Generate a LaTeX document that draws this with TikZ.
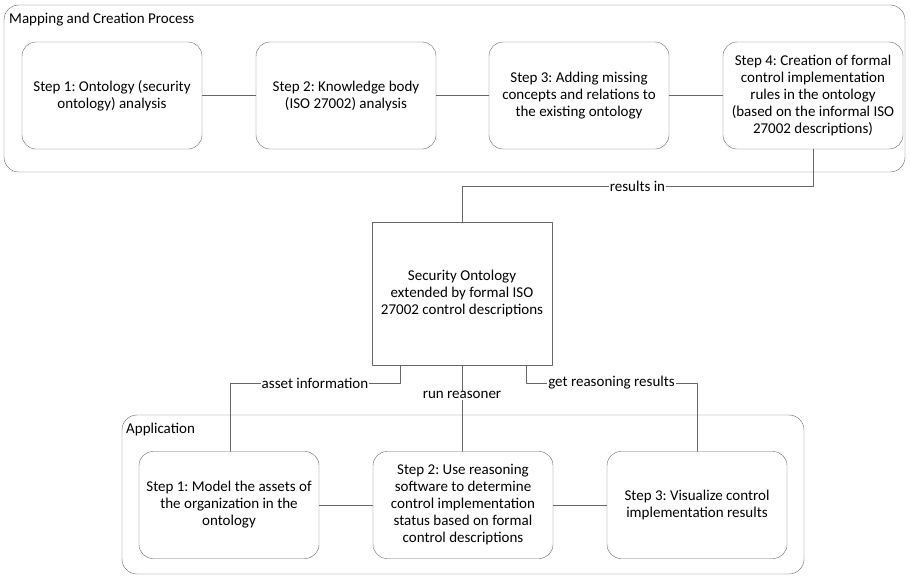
\documentclass[tikz,border=0pt]{standalone}
\usepackage{fontspec}
\setmainfont{Carlito}
\usetikzlibrary{positioning}

\tikzset{
  stepbox/.style={draw=gray!80!black, rounded corners=14pt, minimum width=180pt, minimum height=107pt,
    align=center, inner sep=0pt},
  ontobox/.style={draw=gray!80!black, minimum width=180pt, minimum height=143pt,
    align=center, inner sep=0pt},
  groupbox/.style={draw=gray!80!black, rounded corners=15pt},
  conn/.style={draw=gray!80!black, line width=0.7pt},
  lbl/.style={fill=white, inner sep=1pt}
}

\begin{document}
\frenchspacing
\begin{tikzpicture}[line cap=round,line join=round,x=1pt,y=-1pt,
    font=\fontsize{15}{17}\selectfont]
  \useasboundingbox (0,0) rectangle (910,576);
  % containers
  \draw[groupbox] (4,5) rectangle (905,172);
  \node[anchor=west, inner sep=0pt] (mctitle) at (9,20) {Mapping and Creation Process};
  \draw[groupbox] (122,415) rectangle (804,574);
  \node[anchor=west, inner sep=0pt] (aptitle) at (126,429) {Application};

  % mapping and creation steps
  \node[stepbox] (mc1) at (112,95.5) {Step 1: Ontology (security\\ ontology) analysis};
  \node[stepbox] (mc2) at (346,95.5) {Step 2: Knowledge body\\ (ISO 27002) analysis};
  \node[stepbox] (mc3) at (579,95.5) {Step 3: Adding missing\\ concepts and relations to\\ the existing ontology};
  \node[stepbox] (mc4) at (813,95.5) {Step 4: Creation of formal\\ control implementation\\ rules in the ontology\\ (based on the informal ISO\\ 27002 descriptions)};

  % ontology
  \node[ontobox] (onto) at (462,293.5) {Security Ontology\\ extended by formal ISO\\ 27002 control descriptions};

  % application steps
  \node[stepbox] (ap1) at (229,505) {Step 1: Model the assets of\\ the organization in the\\ ontology};
  \node[stepbox] (ap2) at (463,505) {Step 2: Use reasoning\\ software to determine\\ control implementation\\ status based on formal\\ control descriptions};
  \node[stepbox] (ap3) at (697,505) {Step 3: Visualize control\\ implementation results};

  \coordinate (resin) at (462,186);
  \coordinate (assetL) at (230,383);
  \coordinate (assetR) at (400,383);
  \coordinate (getL) at (526,383);
  \coordinate (getR) at (697,383);

  \draw[conn] (mc1) -- (mc2);
  \draw[conn] (mc2) -- (mc3);
  \draw[conn] (mc3) -- (mc4);
  \draw[conn] (mc4.south) -- (mc4.south |- resin) -- node[lbl] {results in} (resin) -- (onto.north);

  \draw[conn] (onto.south -| assetR) -- (assetR) -- node[lbl] {asset information} (assetL) -- (ap1.north -| assetL);
  \draw[conn] (onto.south) -- node[lbl, pos=0.35] {run reasoner} (onto.south |- ap2.north);
  \draw[conn] (onto.south -| getL) -- (getL) -- node[lbl] {get reasoning results} (getR) -- (ap3.north);
  \draw[conn] (ap1) -- (ap2);
  \draw[conn] (ap2) -- (ap3);
\end{tikzpicture}
\end{document}
